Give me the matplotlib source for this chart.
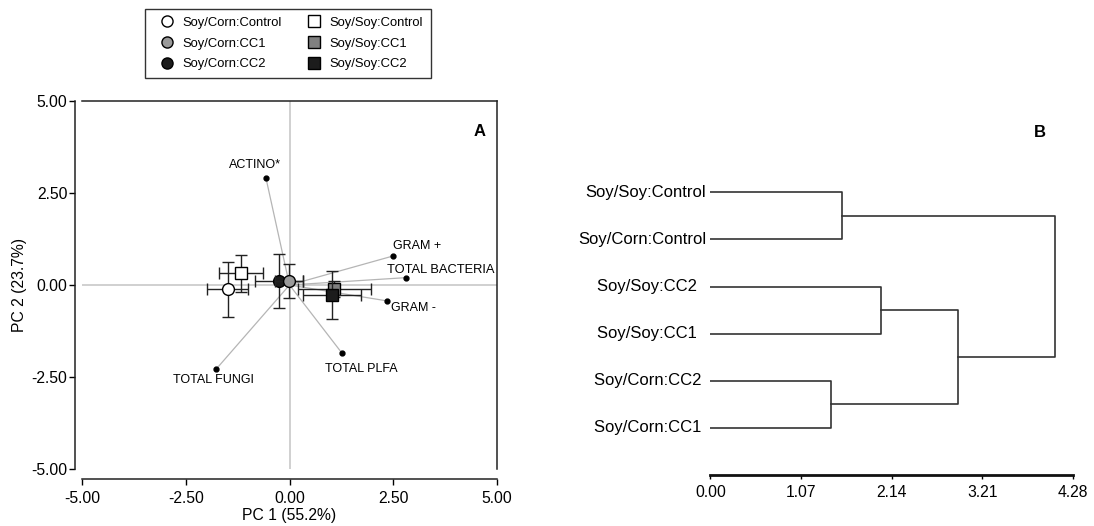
import matplotlib
matplotlib.use("Agg")
import matplotlib.pyplot as plt
from matplotlib.lines import Line2D
import numpy as np

plt.rcParams['font.family'] = ['Liberation Sans', 'DejaVu Sans']
plt.rcParams['axes.unicode_minus'] = False

# PCA scores (mean, error) per treatment
treatments = ["Soy/Corn:Control", "Soy/Soy:Control", "Soy/Corn:CC2",
              "Soy/Corn:CC1", "Soy/Soy:CC1", "Soy/Soy:CC2"]
pc1 = [-1.49, -1.17, -0.25, -0.01, 1.08, 1.03]
pc2 = [-0.12, 0.32, 0.11, 0.11, -0.11, -0.27]
pc1_err = [0.50, 0.53, 0.57, 0.33, 0.88, 0.70]
pc2_err = [0.75, 0.50, 0.74, 0.46, 0.22, 0.65]

# PLFA loadings
load_names = ["ACTINO*", "GRAM +", "TOTAL BACTERIA", "GRAM -", "TOTAL PLFA", "TOTAL FUNGI"]
load_x = [-0.57, 2.50, 2.81, 2.34, 1.27, -1.77]
load_y = [2.92, 0.79, 0.20, -0.43, -1.86, -2.29]

# dendrogram (leaves top to bottom, merge heights)
leaves = ["Soy/Soy:Control", "Soy/Corn:Control", "Soy/Soy:CC2  ",
          "Soy/Soy:CC1  ", "Soy/Corn:CC2 ", "Soy/Corn:CC1 "]
h_control = 1.55
h_soy_cc = 2.01
h_corn_cc = 1.42
h_cc = 2.92
h_root = 4.07

styles = {
    "Soy/Corn:Control": ("o", "white"),
    "Soy/Corn:CC1": ("o", "#9a9a9a"),
    "Soy/Corn:CC2": ("o", "#1c1c1c"),
    "Soy/Soy:Control": ("s", "white"),
    "Soy/Soy:CC1": ("s", "#808080"),
    "Soy/Soy:CC2": ("s", "#1c1c1c"),
}

fig = plt.figure(figsize=(10.94, 5.26), dpi=100)

# ---- panel A: PCA biplot
ax = fig.add_axes([82 / 1094, 1 - 469 / 526, 415 / 1094, 368 / 526])
ax.set_xlim(-5, 5)
ax.set_ylim(-5, 5)
ax.axhline(0, color="#c4c4c4", lw=1.1, zorder=0)
ax.axvline(0, color="#c4c4c4", lw=1.1, zorder=0)

for name, lx, ly in zip(load_names, load_x, load_y):
    ax.plot([0, lx], [0, ly], color="#b5b5b5", lw=0.9, zorder=1)
    ax.plot(lx, ly, "o", color="black", ms=3.5, zorder=2)

ax.text(load_x[0] - 0.26, load_y[0] + 0.34, load_names[0], fontsize=9, ha="center", va="center")
ax.text(load_x[1], load_y[1] + 0.27, load_names[1], fontsize=9, ha="left", va="center")
ax.text(load_x[2] - 0.46, load_y[2] + 0.21, load_names[2], fontsize=9.3, ha="left", va="center")
ax.text(load_x[3] + 0.10, load_y[3] - 0.19, load_names[3], fontsize=9, ha="left", va="center")
ax.text(load_x[4] + 0.47, load_y[4] - 0.42, load_names[4], fontsize=9, ha="center", va="center")
ax.text(load_x[5] - 0.07, load_y[5] - 0.29, load_names[5], fontsize=9, ha="center", va="center")

for i, t in enumerate(treatments):
    m, fc = styles[t]
    ax.errorbar(pc1[i], pc2[i], xerr=pc1_err[i], yerr=pc2_err[i], fmt=m,
                mfc=fc, mec="black", ms=8.5, mew=1.0, ecolor="#222222",
                elinewidth=1.0, capsize=4, capthick=1.0, zorder=3 + i)

ticks = [-5, -2.5, 0, 2.5, 5]
ax.set_xticks(ticks)
ax.set_yticks(ticks)
ax.set_xticklabels(["%.2f" % v for v in ticks])
ax.set_yticklabels(["%.2f" % v for v in ticks])
ax.tick_params(direction="out", length=4, width=1.0, labelsize=11.3)
ax.tick_params(axis="x", pad=5)
ax.tick_params(axis="y", pad=1.5)
ax.spines["left"].set_position(("outward", 5))
ax.spines["bottom"].set_position(("outward", 7))
for s in ax.spines.values():
    s.set_linewidth(1.1)
    s.set_color("#222222")
ax.set_xlabel("PC 1 (55.2%)", fontsize=11.3, labelpad=1.5)
ax.set_ylabel("PC 2 (23.7%)", fontsize=11.3, labelpad=3)
ax.text(4.59, 4.17, "A", fontsize=12, fontweight="bold", ha="center", va="center")

# ---- panel B: dendrogram
ax2 = fig.add_axes([710.5 / 1094, 1 - 475 / 526, 362.2 / 1094, 374 / 526])
ax2.set_xlim(0, 4.28)
ax2.set_ylim(0, 7.94)
ypos = np.arange(len(leaves), 0, -1)
lc = "#333333"
lw = 1.2

for name, y in zip(leaves, ypos):
    ax2.text(-0.05, y, name, ha="right", va="center", fontsize=12)

# control pair
ax2.plot([0, h_control, h_control, 0], [ypos[0], ypos[0], ypos[1], ypos[1]], color=lc, lw=lw)
# soy/soy cc pair
ax2.plot([0, h_soy_cc, h_soy_cc, 0], [ypos[2], ypos[2], ypos[3], ypos[3]], color=lc, lw=lw)
# soy/corn cc pair
ax2.plot([0, h_corn_cc, h_corn_cc, 0], [ypos[4], ypos[4], ypos[5], ypos[5]], color=lc, lw=lw)
y_ctrl = (ypos[0] + ypos[1]) / 2
y_soy = (ypos[2] + ypos[3]) / 2
y_corn = (ypos[4] + ypos[5]) / 2
y_cc = (y_soy + y_corn) / 2
ax2.plot([h_soy_cc, h_cc, h_cc, h_corn_cc], [y_soy, y_soy, y_corn, y_corn], color=lc, lw=lw)
ax2.plot([h_control, h_root, h_root, h_cc], [y_ctrl, y_ctrl, y_cc, y_cc], color=lc, lw=lw)

dticks = [0, 1.07, 2.14, 3.21, 4.28]
ax2.set_xticks(dticks)
ax2.set_xticklabels(["%.2f" % v for v in dticks])
ax2.tick_params(axis="x", direction="out", length=3, width=1.0, labelsize=11.3, pad=4)
ax2.set_yticks([])
for s in ["left", "top", "right"]:
    ax2.spines[s].set_visible(False)
ax2.spines["bottom"].set_linewidth(2.0)
ax2.spines["bottom"].set_color("#111111")
ax2.text(3.89, 7.28, "B", fontsize=12, fontweight="bold", ha="center", va="center")

# ---- legend
order = ["Soy/Corn:Control", "Soy/Corn:CC1", "Soy/Corn:CC2",
         "Soy/Soy:Control", "Soy/Soy:CC1", "Soy/Soy:CC2"]
handles = [Line2D([], [], marker=styles[t][0], linestyle="none", mfc=styles[t][1],
                  mec="black", ms=8, mew=1.0) for t in order]
leg = fig.legend(handles, order, ncol=2, loc="upper left",
                 bbox_to_anchor=(145 / 1094, 1 - 9 / 526), borderaxespad=0,
                 fontsize=9.4, frameon=True, fancybox=False, handlelength=2.2,
                 handletextpad=0.1, columnspacing=1.3, labelspacing=0.65,
                 borderpad=0.6)
leg.get_frame().set_edgecolor("black")
leg.get_frame().set_linewidth(1.0)

fig.savefig("out.png", dpi=100)
